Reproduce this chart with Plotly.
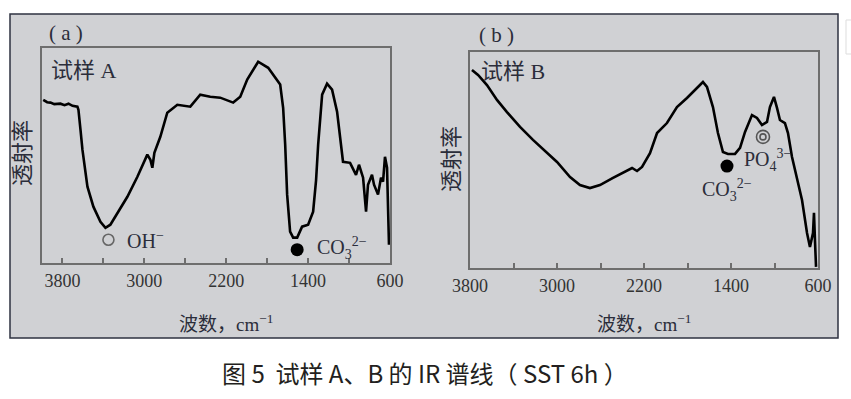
import plotly.graph_objects as go

# ---- data: sample A (wavenumber cm-1, relative transmittance) ----
wn_a = [3988, 3950, 3917, 3880, 3820, 3780, 3741, 3702, 3654, 3644, 3624, 3605, 3556, 3498,
        3429, 3380, 3332, 3263, 3166, 3068, 2971, 2941, 2922, 2902, 2844, 2776, 2678,
        2551, 2454, 2356, 2259, 2132, 2063, 1995, 1888, 1790, 1722, 1673, 1644, 1624,
        1605, 1576, 1546, 1507, 1459, 1400, 1351, 1322, 1302, 1263, 1215, 1166, 1117,
        1088, 1059, 990, 932, 903, 863, 834, 815, 776, 756, 717, 688, 668, 649, 629, 610]
t_a = [75.9, 74.8, 74.6, 73.9, 74.1, 73.4, 74.1, 73.1, 72.7, 71.3, 62.0, 52.7, 35.5, 26.2,
       19.2, 16.4, 17.8, 23.4, 30.8, 40.1, 50.4, 48.0, 44.3, 51.3, 58.7, 69.9, 73.6,
       72.7, 78.3, 77.3, 76.9, 74.6, 77.3, 85.3, 93.6, 90.8, 86.6, 83.0, 72.2, 55.0,
       31.8, 14.6, 11.8, 11.8, 16.9, 17.8, 23.9, 38.7, 55.0, 78.3, 83.4, 80.6, 70.4,
       59.7, 47.1, 46.6, 41.0, 45.7, 39.7, 23.9, 36.4, 41.0, 36.4, 31.8, 39.7, 37.8, 49.4, 44.3, 8.5]

# ---- data: sample B ----
wn_b = [3782, 3726, 3644, 3552, 3460, 3340, 3221, 3092, 3000, 2880, 2789, 2697, 2605,
        2485, 2393, 2310, 2264, 2218, 2145, 2080, 1989, 1897, 1805, 1750, 1658, 1621,
        1566, 1520, 1474, 1428, 1363, 1317, 1271, 1207, 1161, 1115, 1069, 1042, 1005,
        977, 950, 904, 876, 839, 793, 747, 701, 674, 646, 637, 628, 618]
t_b = [91.7, 89.4, 84.7, 77.8, 72.2, 65.3, 59.3, 53.2, 49.1, 42.1, 38.4, 37.0, 38.4,
       41.7, 44.0, 46.3, 44.9, 46.8, 53.2, 62.5, 67.1, 74.5, 78.7, 81.5, 86.1, 83.8,
       74.5, 62.5, 53.7, 52.8, 52.8, 55.6, 63.0, 70.8, 69.5, 66.2, 67.6, 74.5, 79.2,
       74.1, 68.5, 67.1, 62.5, 51.4, 42.1, 31.5, 16.2, 9.7, 16.2, 25.5, 13.0, 0.5]

tick_vals_a = [3800, 3400, 3000, 2600, 2200, 1800, 1400, 1000, 600]
tick_text = ["3800", "", "3000", "", "2200", "", "1400", "", "600"]
range_a = [4000, 600]
range_b = [3800, 600]

# band markers (wavenumber, transmittance)
oh_mark_a = (3351, 10.8)
co3_mark_a = (1507, 6.2)
po4_mark_b = (1106, 60.7)
co3_mark_b = (1437, 47.2)

W, H = 851, 399
def px(x):
    return x / W
def py(y):
    return 1 - y / H

TXT = "#2b2d3a"
SERIF = "Liberation Serif, Times New Roman, serif"
CJK = "Liberation Serif, Noto Sans CJK SC, serif"

fig = go.Figure()
fig.add_trace(go.Scatter(x=wn_a, y=t_a, mode="lines", line=dict(color="black", width=2.6),
                         xaxis="x", yaxis="y", hoverinfo="skip"))
fig.add_trace(go.Scatter(x=wn_b, y=t_b, mode="lines", line=dict(color="black", width=2.6),
                         xaxis="x2", yaxis="y2", hoverinfo="skip"))
# markers
fig.add_trace(go.Scatter(x=[oh_mark_a[0]], y=[oh_mark_a[1]], mode="markers",
                         marker=dict(symbol="circle-open", size=11, color="#666", line=dict(width=1.6)),
                         xaxis="x", yaxis="y", hoverinfo="skip"))
fig.add_trace(go.Scatter(x=[co3_mark_a[0]], y=[co3_mark_a[1]], mode="markers",
                         marker=dict(symbol="circle", size=13, color="black"), xaxis="x", yaxis="y",
                         hoverinfo="skip"))
fig.add_trace(go.Scatter(x=[co3_mark_b[0]], y=[co3_mark_b[1]], mode="markers",
                         marker=dict(symbol="circle", size=13, color="black"), xaxis="x2", yaxis="y2",
                         hoverinfo="skip"))
fig.add_trace(go.Scatter(x=[po4_mark_b[0]], y=[po4_mark_b[1]], mode="markers",
                         marker=dict(symbol="circle-open", size=13, color="#555", line=dict(width=1.6)),
                         xaxis="x2", yaxis="y2", hoverinfo="skip"))
fig.add_trace(go.Scatter(x=[po4_mark_b[0]], y=[po4_mark_b[1]], mode="markers",
                         marker=dict(symbol="circle-open", size=6, color="#555", line=dict(width=1.6)),
                         xaxis="x2", yaxis="y2", hoverinfo="skip"))

axis_common = dict(showline=True, mirror=True, linecolor="#6e6e6e", linewidth=2,
                   showgrid=False, zeroline=False, automargin=False, fixedrange=True)
xcommon = dict(axis_common, ticks="inside", ticklen=5, tickwidth=1.5, tickcolor="#6e6e6e",
               tickvals=tick_vals_a, ticktext=tick_text,
               tickfont=dict(family=SERIF, size=18, color="#333"), ticklabelstandoff=0)
ycommon = dict(axis_common, showticklabels=False, ticks="", range=[0, 100])

fig.update_layout(
    width=W, height=H, margin=dict(l=0, r=0, t=0, b=0, pad=0, autoexpand=False),
    paper_bgcolor="white", plot_bgcolor="rgba(0,0,0,0)", showlegend=False,
    xaxis=dict(xcommon, domain=[px(42), px(390)], range=range_a, anchor="y"),
    yaxis=dict(ycommon, domain=[py(263), py(48)], anchor="x"),
    xaxis2=dict(xcommon, domain=[px(470), px(818)], range=range_b, anchor="y2"),
    yaxis2=dict(ycommon, domain=[py(268), py(52)], anchor="x2"),
)

fig.add_shape(type="rect", xref="paper", yref="paper", x0=px(10), x1=px(838), y0=py(338), y1=py(14),
              fillcolor="#d0d1d4", line=dict(color="#2e3240", width=1.5), layer="below")
fig.add_shape(type="rect", xref="paper", yref="paper", x0=px(846), x1=px(853), y0=py(54), y1=py(20),
              fillcolor="white", line=dict(color="#dddddd", width=1), layer="below")

def ann(text, x, y, size=20, xanchor="center", yanchor="middle", angle=0, xref="paper", yref="paper",
        family=SERIF, color=TXT):
    fig.add_annotation(text=text, x=x, y=y, xref=xref, yref=yref, showarrow=False,
                       xanchor=xanchor, yanchor=yanchor, textangle=angle,
                       font=dict(family=family, size=size, color=color))

# panel labels
ann("( a )", px(66), py(33), size=21)
ann("( b )", px(496), py(35), size=21)
ann("试样 A", px(49), py(70), size=22, xanchor="left", family=CJK)
ann("试样 B", px(479), py(71), size=22, xanchor="left", family=CJK)
# y titles
ann("透射率", px(23), py(153), size=22, angle=-90, family=CJK)
ann("透射率", px(451), py(159), size=22, angle=-90, family=CJK)
# x titles
ann("波数，cm<sup>−1</sup>", px(226), py(323), size=19, family=CJK)
ann("波数，cm<sup>−1</sup>", px(644), py(323), size=19, family=CJK)
# band labels
ann("OH<sup>−</sup>", 3185, 10.8, size=20, xanchor="left", xref="x", yref="y")
ann("CO<sub>3</sub><sup>2−</sup>", 1332, 7.1, size=20, xanchor="left", xref="x", yref="y")
ann("PO<sub>4</sub><sup>3−</sup>", 1299, 50, size=20, xanchor="left", xref="x2", yref="y2")
ann("CO<sub>3</sub><sup>2−</sup>", 1685, 36.1, size=20, xanchor="left", xref="x2", yref="y2")
# caption
ann("图 5  试样 A、B 的 IR 谱线（ SST 6h ）", px(425), py(372), size=24,
    family="Noto Sans CJK SC, sans-serif", color="#231f20")

fig.write_html("out.html", config={"displayModeBar": False},
               post_script="document.body.style.margin='0';")
